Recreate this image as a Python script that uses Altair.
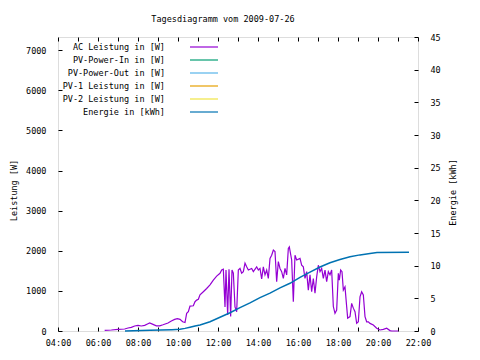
import altair as alt
import pandas as pd

FONT = "DejaVu Sans Mono"
FS = 8.5

# AC Leistung in [W]
ac_times = ["06:20", "06:40", "07:00", "07:20", "07:30", "07:40", "07:50", "08:00", "08:10", "08:20",
            "08:30", "08:35", "08:45", "08:55", "09:05", "09:15", "09:30", "09:40", "09:50", "09:58",
            "10:06", "10:14", "10:21", "10:26", "10:31", "10:36", "10:46", "10:51", "10:56", "11:01",
            "11:06", "11:16", "11:26", "11:36", "11:46", "11:56", "12:06", "12:11", "12:16", "12:21",
            "12:24", "12:29", "12:33", "12:38", "12:42", "12:46", "12:51", "12:56", "13:01", "13:06",
            "13:11", "13:16", "13:21", "13:26", "13:31", "13:41", "13:46", "13:56", "14:01", "14:06",
            "14:11", "14:16", "14:21", "14:26", "14:31", "14:36", "14:41", "14:46", "14:51", "14:56",
            "15:01", "15:06", "15:11", "15:16", "15:21", "15:26", "15:31", "15:34", "15:41", "15:46",
            "15:51", "15:56", "16:06", "16:11", "16:16", "16:21", "16:26", "16:31", "16:36", "16:41",
            "16:46", "16:51", "16:56", "17:01", "17:06", "17:11", "17:16", "17:21", "17:26", "17:31",
            "17:36", "17:41", "17:46", "17:51", "17:56", "18:01", "18:04", "18:08", "18:12", "18:16",
            "18:21", "18:26", "18:29", "18:36", "18:41", "18:46", "18:51", "18:56", "19:01", "19:06",
            "19:11", "19:16", "19:21", "19:26", "19:31", "19:36", "19:46", "19:56", "20:06", "20:16",
            "20:26", "20:36", "20:41", "20:51", "21:01"]
ac_watts = [15, 25, 40, 50, 75, 90, 125, 140, 125, 140,
            180, 200, 165, 130, 130, 155, 200, 250, 290, 310,
            290, 230, 210, 440, 480, 620, 630, 730, 770, 790,
            900, 980, 1060, 1150, 1270, 1370, 1440, 1520, 1540, 600,
            1520, 400, 1540, 360, 1520, 1440, 600, 480, 1520, 1560,
            1440, 1480, 1690, 1600, 1520, 1560, 1480, 1600, 1520, 1560,
            1300, 1600, 1400, 1520, 1310, 1810, 1890, 2020, 1980, 1230,
            1730, 1560, 1480, 1310, 1560, 1400, 2060, 2100, 1770, 730,
            1890, 1770, 1810, 1640, 1600, 1310, 1480, 1020, 1400, 980,
            1310, 940, 1350, 1640, 1480, 1560, 1310, 1520, 1230, 1480,
            1400, 1520, 610, 440, 520, 1440, 1270, 1520, 1480, 1020,
            1100, 610, 320, 360, 690, 570, 480, 190, 230, 850,
            980, 900, 360, 230, 230, 190, 150, 70, 25, 40,
            70, 10, 0, 0, 0]

# Energie in [kWh]
en_times = ["07:21", "08:36", "09:42", "10:06", "10:21", "10:36", "10:51", "11:06", "11:36", "12:06",
            "12:36", "13:06", "13:36", "14:06", "14:36", "15:06", "15:36", "16:06", "16:36", "17:06",
            "17:36", "18:06", "18:36", "19:06", "19:36", "19:57", "21:33"]
en_kwh = [0.0, 0.1, 0.2, 0.26, 0.4, 0.57, 0.75, 0.92, 1.42, 2.1,
          2.8, 3.57, 4.3, 5.1, 5.8, 6.6, 7.3, 8.2, 9.0, 9.8,
          10.45, 10.95, 11.35, 11.65, 11.85, 12.0, 12.05]

series_names = ["AC Leistung in [W]", "PV-Power-In in [W]", "PV-Power-Out in [W]",
                "PV-1 Leistung in [W]", "PV-2 Leistung in [W]", "Energie in [kWh]"]
series_colors = ["#9400D3", "#009E73", "#56B4E9", "#E69F00", "#F0E442", "#0072B2"]

x_ticks = list(range(4, 23))
w_ticks = [0, 1000, 2000, 3000, 4000, 5000, 6000, 7000]
e_ticks = [0, 5, 10, 15, 20, 25, 30, 35, 40, 45]


def to_hours(s):
    h, m = s.split(":")
    return int(h) + int(m) / 60.0


ac = pd.DataFrame({"t": [to_hours(s) for s in ac_times], "W": ac_watts})
en = pd.DataFrame({"t": [to_hours(s) for s in en_times], "E": en_kwh})
leg = pd.DataFrame({"name": series_names, "color": series_colors})

label_expr = "datum.value % 2 == 0 ? ((datum.value < 10 ? '0' : '') + datum.value + ':00') : ''"
xscale = alt.Scale(domain=[4, 22], nice=False, zero=False)

common_axis = dict(grid=False, domain=False, tickColor="black", tickSize=4, offset=-4,
                   labelFont=FONT, labelFontSize=FS, labelColor="black",
                   titleFont=FONT, titleFontSize=FS, titleColor="black", titleFontWeight="normal")

ac_line = alt.Chart(ac).mark_line(color="#9400D3", strokeWidth=1.2).encode(
    x=alt.X("t:Q", scale=xscale,
            axis=alt.Axis(orient="bottom", values=x_ticks, labelExpr=label_expr, title=None,
                          labelPadding=7, labelOverlap=False, labelFlush=False, **common_axis)),
    y=alt.Y("W:Q", scale=alt.Scale(domain=[0, 7330], nice=False),
            axis=alt.Axis(orient="left", values=w_ticks, format="d", title="Leistung [W]",
                          labelPadding=12, titleAngle=270, titleX=-49, titleY=153,
                          titleAlign="center", titleBaseline="middle", **common_axis)),
)

en_line = alt.Chart(en).mark_line(color="#0072B2", strokeWidth=1.5).encode(
    x=alt.X("t:Q", scale=xscale,
            axis=alt.Axis(orient="top", values=x_ticks, labels=False, title=None, **common_axis)),
    y=alt.Y("E:Q", scale=alt.Scale(domain=[0, 45], nice=False),
            axis=alt.Axis(orient="right", values=e_ticks, title="Energie [kWh]",
                          labelPadding=12, titleAngle=270, titleX=38, titleY=155,
                          titleAlign="center", titleBaseline="middle", **common_axis)),
)

leg_y = alt.Y("name:N", scale=alt.Scale(type="point", domain=series_names, range=[10, 75], padding=0),
              axis=None)

leg_text = alt.Chart(leg).mark_text(align="right", baseline="middle", font=FONT, fontSize=FS,
                                    color="black").encode(
    y=leg_y, x=alt.value(107), text="name:N")

leg_rule = alt.Chart(leg).mark_rule(strokeWidth=1.2).encode(
    y=leg_y, x=alt.value(132), x2=alt.value(160),
    color=alt.Color("name:N", scale=alt.Scale(domain=series_names, range=series_colors), legend=None))

chart = alt.layer(ac_line, en_line, leg_text, leg_rule).resolve_scale(
    y="independent").resolve_axis(x="independent").properties(
    width=360, height=294,
    autosize=alt.AutoSizeParams(type="none"),
    padding={"left": 50, "top": 29, "right": 54, "bottom": 21},
    title=alt.TitleParams("Tagesdiagramm vom 2009-07-26", font=FONT, fontSize=FS,
                          fontWeight="normal", color="black", anchor="middle", dx=-15,
                          baseline="alphabetic", offset=3),
).configure_view(stroke="black", strokeWidth=1).configure(background="white")

chart.save("out.html", embed_options={"renderer": "svg", "actions": False})
